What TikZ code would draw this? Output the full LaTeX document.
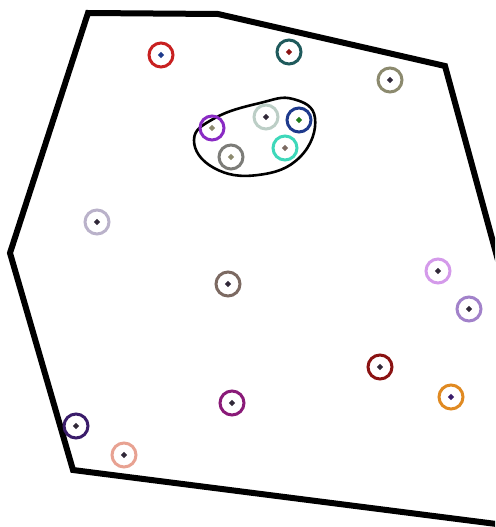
\documentclass[tikz,border=0pt]{standalone}
\usetikzlibrary{shapes.geometric}
\definecolor{c1}{HTML}{C82020}
\definecolor{c2}{HTML}{1F5A5C}
\definecolor{c3}{HTML}{8C8A6E}
\definecolor{c4}{HTML}{8A2BC4}
\definecolor{c5}{HTML}{BCCEC6}
\definecolor{c6}{HTML}{1E3A8C}
\definecolor{c7}{HTML}{7C7C78}
\definecolor{c8}{HTML}{3ED8BA}
\definecolor{c9}{HTML}{BAB2CA}
\definecolor{c10}{HTML}{7C6A62}
\definecolor{c11}{HTML}{D49AEA}
\definecolor{c12}{HTML}{A282CA}
\definecolor{c13}{HTML}{8A1212}
\definecolor{c14}{HTML}{E08A22}
\definecolor{c15}{HTML}{8A1A78}
\definecolor{c16}{HTML}{3A1C6A}
\definecolor{c17}{HTML}{E8A292}
\definecolor{dk}{HTML}{302838}
\tikzset{
  ring/.style={circle, draw=#1, line width=3pt, minimum size=24pt, inner sep=0pt},
  dot/.style={diamond, fill=#1, minimum size=6.5pt, inner sep=0pt},
  hull/.style={line width=6pt, line join=miter},
  blob/.style={line width=2.6pt}
}
\begin{document}
\begin{tikzpicture}[x=1pt,y=-1pt]
\useasboundingbox (0,0) rectangle (495,527);
\begin{scope}
\clip (0,0) rectangle (495,527);
\draw[hull] (88,13) -- (218,14) -- (445,66) -- (502,275) -- (520,527) -- (73,470) -- (10,253) -- cycle;
\end{scope}
\draw[blob] plot[smooth cycle, tension=0.75] coordinates {(194,140) (215,118) (260,103) (293,99) (315,118) (300,157) (258,175) (214,168)};
\foreach \n/\x/\y/\dc in {1/161/55/c6, 2/289/52/c13, 3/390/80/dk, 4/212/128/c3, 5/266/117/dk, 6/299/120/c7!40!green!60!black, 7/231/157/c3, 8/285/148/c10, 9/97/222/dk, 10/228/284/dk, 11/438/271/dk, 12/469/309/dk, 13/380/367/dk, 14/451/397/c16, 15/232/403/dk, 16/76/426/dk, 17/124/455/dk} {
  \node[ring=c\n] (r\n) at (\x,\y) {};
  \node[dot=\dc] (d\n) at (r\n.center) {};
}
\end{tikzpicture}
\end{document}
